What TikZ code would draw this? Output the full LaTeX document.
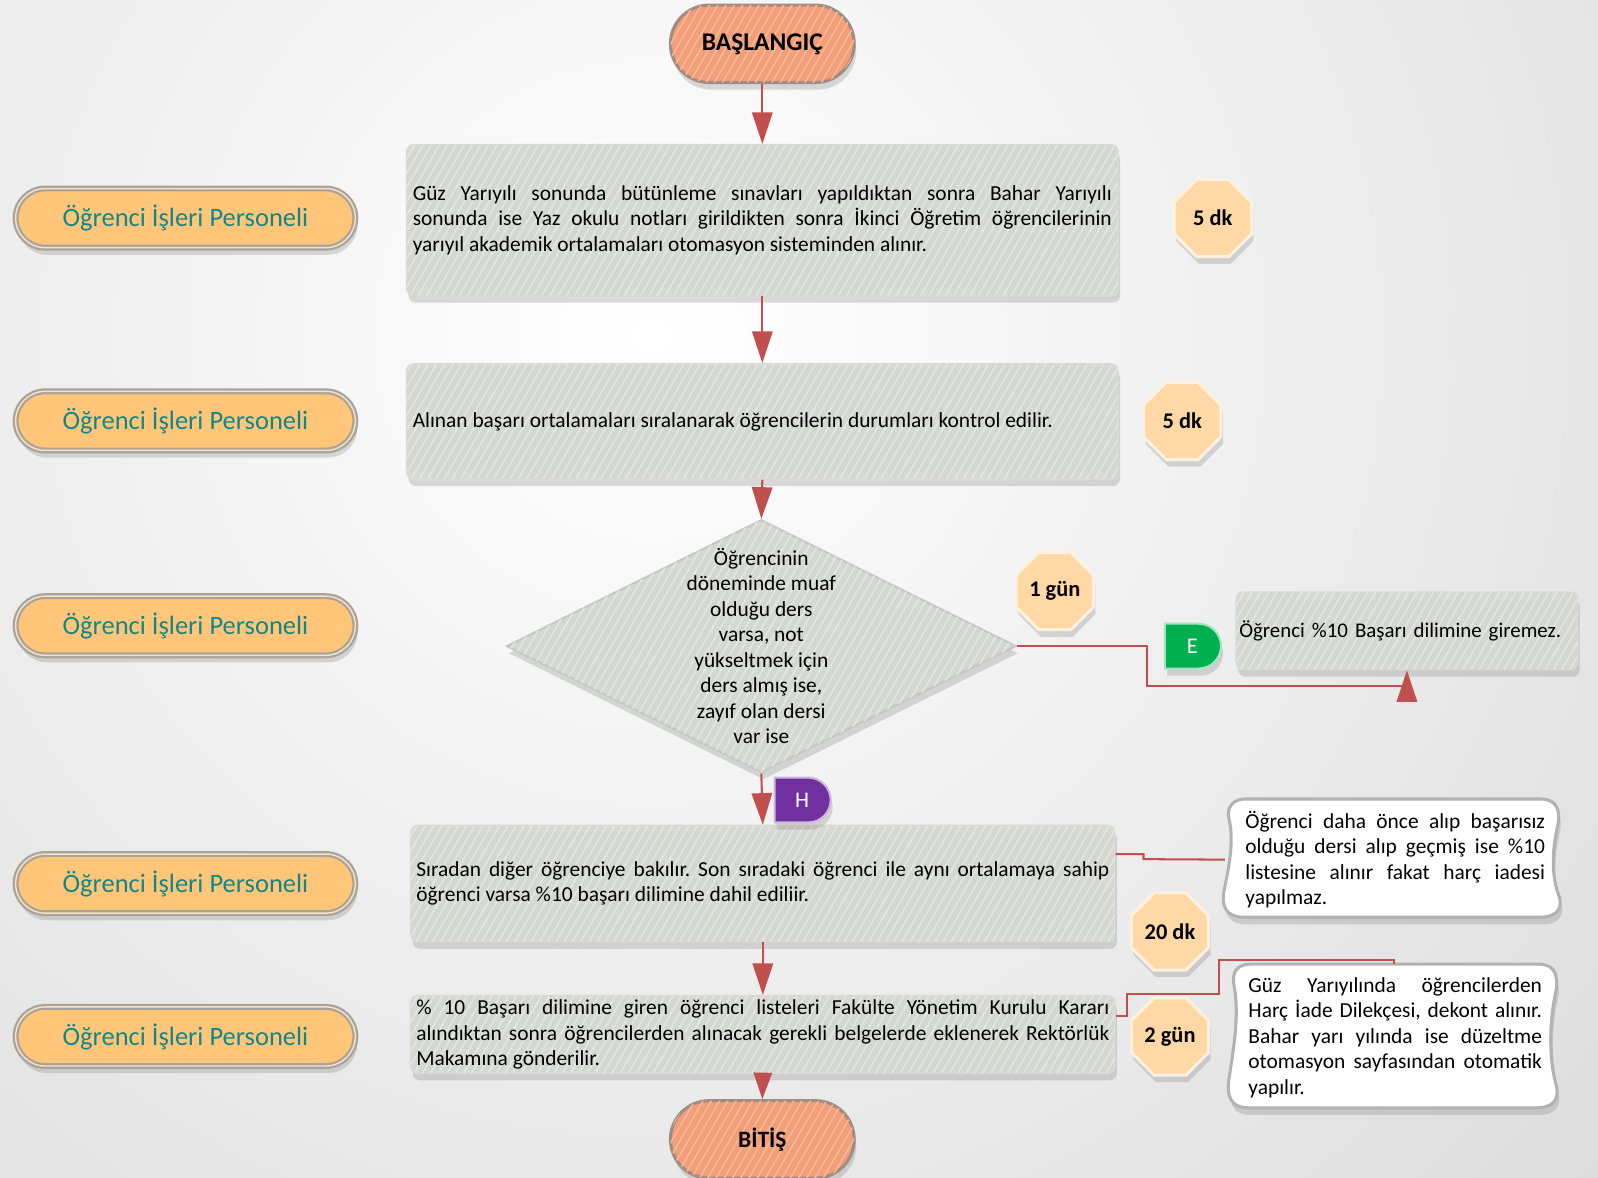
\documentclass[tikz,border=0pt]{standalone}
\usepackage{fontspec}
\setmainfont{Carlito}
\usepackage{tikz}
\usetikzlibrary{arrows.meta, shapes.geometric, shapes.misc, shadows, patterns.meta}

\definecolor{boxgray}{HTML}{D5D7D1}
\definecolor{stripegray}{HTML}{E4E6E1}
\definecolor{salmon}{HTML}{F29E78}
\definecolor{stripesalmon}{HTML}{F8B898}
\definecolor{termedge}{HTML}{A08C82}
\definecolor{lanefill}{HTML}{FFC67A}
\definecolor{laneinner}{HTML}{F6E2C4}
\definecolor{laneedge}{HTML}{A9A39C}
\definecolor{laneteal}{HTML}{148686}
\definecolor{peach}{HTML}{FFD8A6}
\definecolor{peachedge}{HTML}{FFF1E0}
\definecolor{flowred}{HTML}{C0504D}
\definecolor{yesgreen}{HTML}{00B050}
\definecolor{nopurple}{HTML}{7030A0}
\definecolor{notegray}{HTML}{B2B2B2}

\newcommand{\flowfont}{\fontsize{21}{25}\selectfont}

\tikzset{
  hatch/.style={postaction={pattern={Lines[angle=60,distance=7pt,line width=1.6pt]},pattern color=#1}},
  softshadow/.style={drop shadow={shadow xshift=2pt,shadow yshift=-7pt,opacity=.28}},
  process/.style={rectangle, draw=gray!30, line width=1.5pt, rounded corners=7pt, fill=boxgray, hatch=stripegray, softshadow, text width=686pt, inner xsep=6pt, align=justify, font=\flowfont},
  terminal/.style={rounded rectangle, draw=termedge, line width=3pt, fill=salmon, hatch=stripesalmon, softshadow, minimum width=187pt, minimum height=76pt},
  decision/.style={diamond, draw=gray!45, line width=2pt, fill=boxgray, hatch=stripegray, softshadow, minimum width=500pt, minimum height=248pt, inner sep=0pt},
  dectext/.style={align=center, font=\flowfont, inner sep=0pt},
  lane/.style={rounded rectangle, draw=laneedge, line width=2.2pt, double=laneinner, double distance=1.4pt, fill=lanefill, softshadow, minimum width=340pt, minimum height=58pt, text=laneteal, font=\fontsize{26}{30}\selectfont},
  timer/.style={regular polygon, regular polygon sides=8, minimum size=82pt, inner sep=0pt, fill=peach, draw=peachedge, line width=3pt, softshadow, font=\bfseries\fontsize{22}{26}\selectfont},
  offpage/.style={rounded rectangle, rounded rectangle left arc=none, minimum width=55pt, minimum height=44pt, inner sep=0pt, line width=2pt, softshadow, text=white, font=\fontsize{22}{26}\selectfont},
  notebox/.style={draw=notegray, line width=3pt, fill=white, softshadow},
  notetext/.style={text width=294pt, inner xsep=20pt, inner ysep=0pt, align=justify, font=\flowfont},
  flowline/.style={draw=flowred, line width=2pt},
  flow/.style={flowline, -{Triangle[length=31pt,width=20pt]}}
}

\begin{document}
\frenchspacing
\begin{tikzpicture}[x=1pt,y=1pt,yscale=-1,xscale=1]
\useasboundingbox (0,0) rectangle (1568,1155);

%Background
\begin{scope}
\clip (0,0) rectangle (1568,1155);
\shade[inner color=white, outer color=gray!45] (640,330) circle (2100);
\end{scope}

%Flowchart: Terminator
\node[terminal, font=\bfseries\fontsize{25}{30}\selectfont] (start) at (748,43) {BAŞLANGIÇ};
%Flowchart: Process
\node[process, minimum height=148pt] (boxa) at (748,216) {Güz Yarıyılı sonunda bütünleme sınavları yapıldıktan sonra Bahar Yarıyılı\linebreak sonunda ise Yaz okulu notları girildikten sonra İkinci Öğretim öğrencilerinin\linebreak yarıyıl akademik ortalamaları otomasyon sisteminden alınır.};
%Flowchart: Process
\node[process, minimum height=113pt] (boxb) at (748,413.5) {Alınan başarı ortalamaları sıralanarak öğrencilerin durumları kontrol edilir.};
%Flowchart: Decision
\node[decision] (dec) at (747,634) {};
% Text Node
\node[dectext] (dectxt) at (dec.center) {Öğrencinin\\döneminde muaf\\olduğu ders\\varsa, not\\yükseltmek için\\ders almış ise,\\zayıf olan dersi\\var ise};
%Flowchart: Process
\node[process, text width=680pt, inner xsep=5.5pt, minimum height=114pt] (boxc) at (748.5,867) {Sıradan diğer öğrenciye bakılır. Son sıradaki öğrenci ile aynı ortalamaya sahip\linebreak öğrenci varsa \%10 başarı dilimine dahil ediliir.};
%Flowchart: Process
\node[process, text width=680pt, inner xsep=5.5pt, minimum height=76pt] (boxd) at (748.5,1015) {\% 10 Başarı dilimine giren öğrenci listeleri Fakülte Yönetim Kurulu Kararı\linebreak alındıktan sonra öğrencilerden alınacak gerekli belgelerde eklenerek Rektörlük\linebreak Makamına gönderilir.};
%Flowchart: Terminator
\node[terminal, font=\bfseries\fontsize{23}{28}\selectfont] (finish) at (748,1118) {BİTİŞ};

%Rounded Rect
\node[lane] (lanea) at (182,214) {Öğrenci İşleri Personeli};
\node[lane] (laneb) at (182,413) {Öğrenci İşleri Personeli};
\node[lane] (lanec) at (182,614) {Öğrenci İşleri Personeli};
\node[lane] (laned) at (182,867) {Öğrenci İşleri Personeli};
\node[lane] (lanee) at (182,1017) {Öğrenci İşleri Personeli};

%Octagons
\node[timer] (timea) at (1190,214) {5 dk};
\node[timer] (timeb) at (1160,413) {5 dk};
\node[timer] (timec) at (1035,580) {1 gün};
\node[timer] (timed) at (1148,914) {20 dk};
\node[timer] (timee) at (1148,1017) {2 gün};

%Flowchart: Off-page Connector
\node[offpage, fill=yesgreen, draw=yesgreen!35!white] (yes) at (1170,634) {E};
\node[offpage, fill=nopurple, draw=nopurple!35!white] (no) at (787,785) {H};

%Flowchart: Process
\node[process, text width=329pt, align=left, inner xsep=3pt, minimum height=76pt, font=\fontsize{20.5}{25}\selectfont] (ebox) at (1380.5,619) {Öğrenci \%10 Başarı dilimine giremez.};

%Wave shapes
\draw[notebox] (1222,784) -- (1512,784) .. controls (1528,784) and (1532,796) .. (1528,812) .. controls (1523,835) and (1522,860) .. (1530,880) .. controls (1534,894) and (1524,900) .. (1512,900) -- (1220,900) .. controls (1204,900) and (1198,890) .. (1201,874) .. controls (1206,850) and (1211,825) .. (1206,804) .. controls (1203,792) and (1210,784) .. (1222,784) -- cycle;
\draw[notebox] (1227,946) -- (1510,946) .. controls (1526,946) and (1530,958) .. (1526,976) .. controls (1520,1005) and (1520,1040) .. (1527,1065) .. controls (1531,1080) and (1522,1087) .. (1508,1087) -- (1225,1087) .. controls (1208,1087) and (1203,1076) .. (1206,1058) .. controls (1211,1025) and (1216,995) .. (1211,968) .. controls (1208,954) and (1214,946) .. (1227,946) -- cycle;
% Text Node
\node[notetext] (notea) at (1369,843.5) {Öğrenci daha önce alıp başarısız\linebreak olduğu dersi alıp geçmiş ise \%10\linebreak listesine alınır fakat harç iadesi\linebreak yapılmaz.};
% Text Node
\node[notetext, text width=288pt] (noteb) at (1369,1018) {Güz Yarıyılında öğrencilerden\linebreak Harç İade Dilekçesi, dekont alınır.\linebreak Bahar yarı yılında ise düzeltme\linebreak otomasyon sayfasından otomatik\linebreak yapılır.};
\coordinate (nbtop) at (1368,946);

%Straight Lines
\draw[flow] (start.south) -- (boxa.north);
\draw[flow] (boxa.south) -- (boxb.north);
\draw[flow] (boxb.south) -- (dec.north);
\draw[flow] (dec.south) -- (boxc.north);
\draw[flow] (boxc.south) -- (boxd.north);
\draw[flowline, -{Triangle[length=26pt,width=18pt]}] (boxd.south) -- (finish.north);
%Elbow Lines
\draw[flow] (dec.east) -| (1125,673) -| (ebox.south);
\draw[flowline] (boxc.east |- 0,838) -- (1122,838) -- (1122,843) -- (notea.west);
\draw[flowline] (boxd.east |- 0,997) -- (1106,997) -- (1106,975) -- (1196,975) -- (1196,942) -- (1368,942) -- (nbtop);

\end{tikzpicture}
\end{document}
